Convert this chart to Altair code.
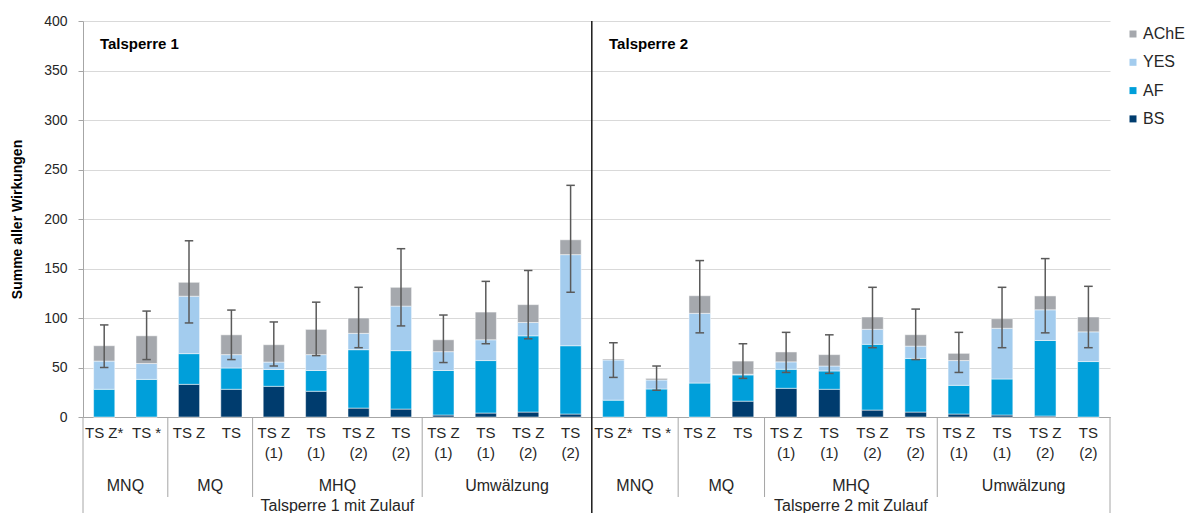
import altair as alt
import pandas as pd

# ---------------- data ----------------
bar_labels = ["TS Z*", "TS *", "TS Z", "TS",
              "TS Z\n(1)", "TS\n(1)", "TS Z\n(2)", "TS\n(2)",
              "TS Z\n(1)", "TS\n(1)", "TS Z\n(2)", "TS\n(2)"] * 2
group_names = ["MNQ", "MQ", "MHQ", "Umwälzung"] * 2
group_sizes = [2, 2, 4, 4] * 2
panel_names = ["Talsperre 1 mit Zulauf", "Talsperre 2 mit Zulauf"]
panel_titles = ["Talsperre 1", "Talsperre 2"]
components = ["AChE", "YES", "AF", "BS"]

BS = [0, 0, 33, 28, 31, 26, 9, 8, 2, 4, 5, 3,
      0, 0, 0, 16, 29, 28, 7, 5, 3, 2, 1, 0]
AF = [28, 38, 31, 21.5, 17, 21, 59, 59, 45, 53, 77, 69,
      17, 28.3, 34.3, 26.5, 19.2, 18.5, 66.4, 54.2, 29, 36.4, 76.3, 56]
YES = [28.5, 16, 58, 13.5, 7.5, 16, 16.5, 45, 19, 21, 13.5, 92,
       40.6, 9.1, 70.4, 0.7, 7.5, 5, 15.2, 12.4, 25, 51.2, 31, 30]
AChE = [15.5, 28, 14, 20, 17.5, 25.5, 15.5, 19, 12, 28, 18, 15,
        1, 1.6, 17.8, 13.3, 10, 11.5, 12.4, 11.5, 7.3, 9.7, 14, 15]
err_hi = [93, 107, 178, 108, 96, 116, 131, 170, 103, 137, 148, 234,
          75, 51.5, 158, 74, 85.5, 83, 131, 109, 85.5, 131, 160, 132]
err_lo = [50, 58, 95, 58, 51.5, 62, 70, 92, 55, 74, 79, 126,
          40, 27, 85, 39, 45, 44, 70, 58, 45, 70, 85, 70]

colors = ["#A5A8AD", "#A3CCEE", "#009FDA", "#003C6E"]

# ---------------- tables ----------------
n = len(bar_labels)
series = {"BS": BS, "AF": AF, "YES": YES, "AChE": AChE}
order = {"BS": 0, "AF": 1, "YES": 2, "AChE": 3}
bars_df = pd.DataFrame([
    {"i": i, "comp": c, "ord": order[c], "value": series[c][i]}
    for i in range(n) for c in ["BS", "AF", "YES", "AChE"]
])
err_df = pd.DataFrame({"i": list(range(n)), "lo": err_lo, "hi": err_hi})
lab_df = pd.DataFrame({"i": list(range(n)), "label": bar_labels})

starts = []
s = 0
for g in group_sizes:
    starts.append(s)
    s += g
grp_df = pd.DataFrame({"start": starts,
                       "end": [a + b for a, b in zip(starts, group_sizes)],
                       "name": group_names})
pan_df = pd.DataFrame({"start": [0, 12], "end": [12, 24],
                       "name": panel_names, "title": panel_titles})
minor_df = pd.DataFrame({"b": [b for b in starts if b not in (0, 12)]})
major_df = pd.DataFrame({"b": [0, 24]})
div_df = pd.DataFrame({"b": [12]})

H = 396
W = 1027
FONT = "Liberation Sans"
TXT = "#262626"
# the two panels are slightly different in width in the original
xs = alt.Scale(domain=[0, 12, 24], range=[0, 508.8, W], nice=False, zero=False)
ys = alt.Scale(domain=[0, 400], nice=False)
XAX = alt.Axis(labels=False, ticks=False, grid=False, domainColor="#A6A6A6",
               domainWidth=1, title=None)
YAX = alt.Axis(values=list(range(0, 401, 50)), grid=True, gridColor="#D9D9D9",
               gridWidth=1.2, domainColor="#A6A6A6", tickColor="#A6A6A6",
               tickSize=5, labelPadding=11, labelFontSize=14, labelFont=FONT,
               labelColor=TXT, title="Summe aller Wirkungen", titleFont=FONT,
               titleFontSize=14, titleFontWeight="bold", titleColor="black",
               titleAngle=-90, titleX=-66, titleY=H / 2, titleAlign="center",
               titleBaseline="middle")


def X(f):
    return alt.X(f, scale=xs, axis=XAX)


def Y(f):
    return alt.Y(f, scale=ys, axis=YAX)


bars = alt.Chart(bars_df).transform_stack(
    stack="value", groupby=["i"], as_=["y0", "y1"],
    sort=[alt.SortField("ord", order="ascending")]
).transform_calculate(
    x0="datum.i + 0.25", x1="datum.i + 0.75"
).mark_bar(stroke="white", strokeWidth=0.5).encode(
    x=X("x0:Q"), x2="x1:Q",
    y=Y("y0:Q"), y2="y1:Q",
    color=alt.Color("comp:N", scale=alt.Scale(domain=components, range=colors),
                    legend=alt.Legend(title=None, orient="none", legendX=1042, legendY=5,
                                      symbolType="square", symbolSize=49,
                                      symbolStrokeWidth=0, labelFontSize=16,
                                      labelFont=FONT, labelColor=TXT, rowPadding=12.3,
                                      labelOffset=2)),
)

err_base = alt.Chart(err_df).transform_calculate(
    xc="datum.i + 0.5", cl="datum.i + 0.4", cr="datum.i + 0.6")
err_line = err_base.mark_rule(color="#5A5A5A", strokeWidth=1.5).encode(
    x=X("xc:Q"), y=Y("lo:Q"), y2="hi:Q")
cap_hi = err_base.mark_rule(color="#5A5A5A", strokeWidth=1.5).encode(
    x=X("cl:Q"), x2="cr:Q", y=Y("hi:Q"))
cap_lo = err_base.mark_rule(color="#5A5A5A", strokeWidth=1.5).encode(
    x=X("cl:Q"), x2="cr:Q", y=Y("lo:Q"))

labels = alt.Chart(lab_df).transform_calculate(xc="datum.i + 0.5").mark_text(
    lineBreak="\n", baseline="top", align="center", fontSize=15, font=FONT,
    color=TXT, lineHeight=20).encode(
    x=X("xc:Q"), y=alt.value(H + 9), text="label:N")

grp_text = alt.Chart(grp_df).transform_calculate(xc="(datum.start + datum.end) / 2").mark_text(
    baseline="middle", align="center", fontSize=16, font=FONT, color=TXT).encode(
    x=X("xc:Q"), y=alt.value(H + 69), text="name:N")

pan_text = alt.Chart(pan_df).transform_calculate(xc="(datum.start + datum.end) / 2").mark_text(
    baseline="bottom", align="center", fontSize=16, font=FONT, color=TXT).encode(
    x=X("xc:Q"), y=alt.value(H + 97), text="name:N")

pan_title = alt.Chart(pan_df).transform_calculate(xt="datum.start + 0.4").mark_text(
    baseline="middle", align="left", fontSize=15, font=FONT, fontWeight="bold",
    color="black").encode(
    x=X("xt:Q"), y=alt.value(23), text="title:N")

minor_sep = alt.Chart(minor_df).mark_rule(color="#A6A6A6", strokeWidth=1).encode(
    x=X("b:Q"), y=alt.value(H), y2=alt.value(H + 80))
major_sep = alt.Chart(major_df).mark_rule(color="#A6A6A6", strokeWidth=1).encode(
    x=X("b:Q"), y=alt.value(H), y2=alt.value(H + 110))
divider = alt.Chart(div_df).mark_rule(color="#1A1A1A", strokeWidth=1.5).encode(
    x=X("b:Q"), y=alt.value(0), y2=alt.value(H + 110))

chart = alt.layer(
    bars, err_line, cap_hi, cap_lo, minor_sep, major_sep, divider,
    labels, grp_text, pan_text, pan_title
).properties(
    width=W, height=H,
    autosize=alt.AutoSizeParams(type="none"),
    padding={"left": 75, "top": 13, "right": 78, "bottom": 96},
    background="white",
).configure_view(stroke=None, strokeWidth=0)

chart.save("out.html", embed_options={"renderer": "svg", "actions": False})
